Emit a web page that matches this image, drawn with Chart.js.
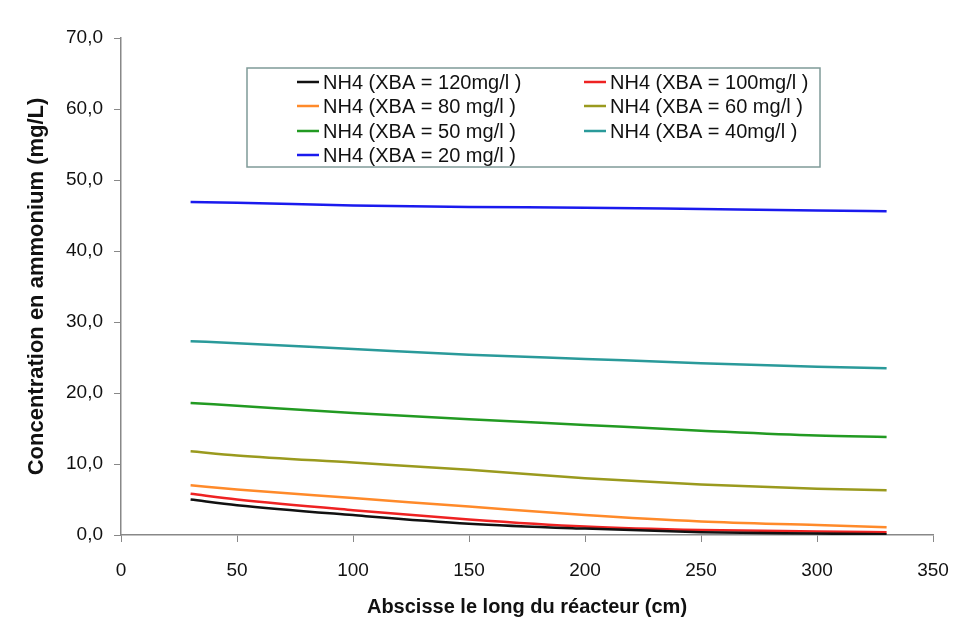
<!DOCTYPE html>
<html>
<head>
<meta charset="utf-8">
<script src="https://cdn.jsdelivr.net/npm/chart.js@4/dist/chart.umd.min.js"></script>
<style>
  html, body { margin: 0; padding: 0; background: #fff; }
  #wrap { width: 955px; height: 622px; }
</style>
</head>
<body>
<div id="wrap"><canvas id="myChart"></canvas></div>
<script>
const abscisse = [30, 50, 100, 150, 200, 250, 300, 330];

const xba120 = [5.0, 4.2, 2.8, 1.6, 0.9, 0.4, 0.2, 0.1];
const xba100 = [5.8, 5.0, 3.5, 2.2, 1.2, 0.7, 0.5, 0.4];
const xba80 = [7.0, 6.4, 5.2, 4.0, 2.8, 1.9, 1.4, 1.1];
const xba60 = [11.8, 11.2, 10.2, 9.2, 8.0, 7.1, 6.5, 6.3];
const xba50 = [18.6, 18.2, 17.2, 16.3, 15.5, 14.7, 14.0, 13.8];
const xba40 = [27.3, 27.0, 26.2, 25.4, 24.8, 24.2, 23.7, 23.5];
const xba20 = [46.9, 46.8, 46.4, 46.2, 46.1, 45.9, 45.7, 45.6];

const seriesNames = [
  'NH4 (XBA = 120mg/l )', 'NH4 (XBA = 100mg/l )',
  'NH4 (XBA = 80 mg/l )', 'NH4 (XBA = 60 mg/l )',
  'NH4 (XBA = 50 mg/l )', 'NH4 (XBA = 40mg/l )',
  'NH4 (XBA = 20 mg/l )'
];
const seriesColors = ['#111111', '#ee2222', '#ff8a2a', '#9a9a1e', '#229a22', '#2a9a9a', '#1a1aee'];
const seriesValues = [xba120, xba100, xba80, xba60, xba50, xba40, xba20];

const yTicks = [0, 10, 20, 30, 40, 50, 60, 70];

const FONT = '"Liberation Sans", Arial, sans-serif';

const datasets = seriesValues.map((vals, i) => ({
  label: seriesNames[i],
  data: vals.map((v, j) => ({ x: abscisse[j], y: v })),
  borderColor: seriesColors[i],
  backgroundColor: seriesColors[i],
  borderWidth: 2.5,
  pointRadius: 0,
  cubicInterpolationMode: 'monotone',
  fill: false
}));

// legend box drawn inside the plot, two columns like the original
const boxLegend = {
  id: 'boxLegend',
  afterDraw(chart) {
    const c = chart.ctx;
    c.save();
    c.fillStyle = '#fff';
    c.strokeStyle = '#7f9a98';
    c.lineWidth = 1.5;
    c.fillRect(247, 68, 573, 99);
    c.strokeRect(247, 68, 573, 99);
    c.font = '20px ' + FONT;
    c.textBaseline = 'middle';
    const rows = [82, 106, 131, 155];
    chart.data.datasets.forEach((ds, i) => {
      const col = i % 2;
      const y = rows[Math.floor(i / 2)];
      const lx = col === 0 ? 297 : 584;
      c.strokeStyle = ds.borderColor;
      c.lineWidth = 2.5;
      c.beginPath();
      c.moveTo(lx, y);
      c.lineTo(lx + 22, y);
      c.stroke();
      c.fillStyle = '#111';
      c.fillText(ds.label, lx + 26, y + 1);
    });
    c.restore();
  }
};

const ctx = document.getElementById('myChart');

new Chart(ctx, {
  type: 'line',
  data: { datasets: datasets },
  plugins: [boxLegend],
  options: {
    responsive: true,
    maintainAspectRatio: false,
    animation: false,
    layout: { padding: { top: 38, right: 22, left: 0, bottom: 0 } },
    plugins: {
      legend: { display: false },
      tooltip: { enabled: false }
    },
    scales: {
      x: {
        type: 'linear',
        min: 0,
        max: 350,
        afterFit: (s) => { s.height = 87; s.paddingRight = 0; s.paddingLeft = 0; },
        ticks: {
          stepSize: 50,
          padding: 17,
          color: '#111',
          font: { family: FONT, size: 19 },
          maxRotation: 0
        },
        grid: { drawOnChartArea: false, tickLength: 7, color: '#888' },
        border: { color: '#888', width: 1.5 },
        title: {
          display: true,
          text: 'Abscisse le long du réacteur (cm)',
          color: '#111',
          font: { family: FONT, size: 20, weight: 'bold' },
          padding: { top: 4, bottom: 3 }
        }
      },
      y: {
        min: 0,
        max: 70,
        afterFit: (s) => { s.width = 121; },
        afterBuildTicks: (s) => { s.ticks = yTicks.map(v => ({ value: v })); },
        ticks: {
          padding: 11,
          color: '#111',
          font: { family: FONT, size: 19 },
          callback: (v) => v.toFixed(1).replace('.', ',')
        },
        grid: { drawOnChartArea: false, tickLength: 7, color: '#888' },
        border: { color: '#888', width: 1.5 },
        title: {
          display: true,
          text: 'Concentration en ammonium (mg/L)',
          color: '#111',
          font: { family: FONT, size: 22, weight: 'bold' },
          padding: { top: 24, bottom: 4 }
        }
      }
    }
  }
});
</script>
</body>
</html>
